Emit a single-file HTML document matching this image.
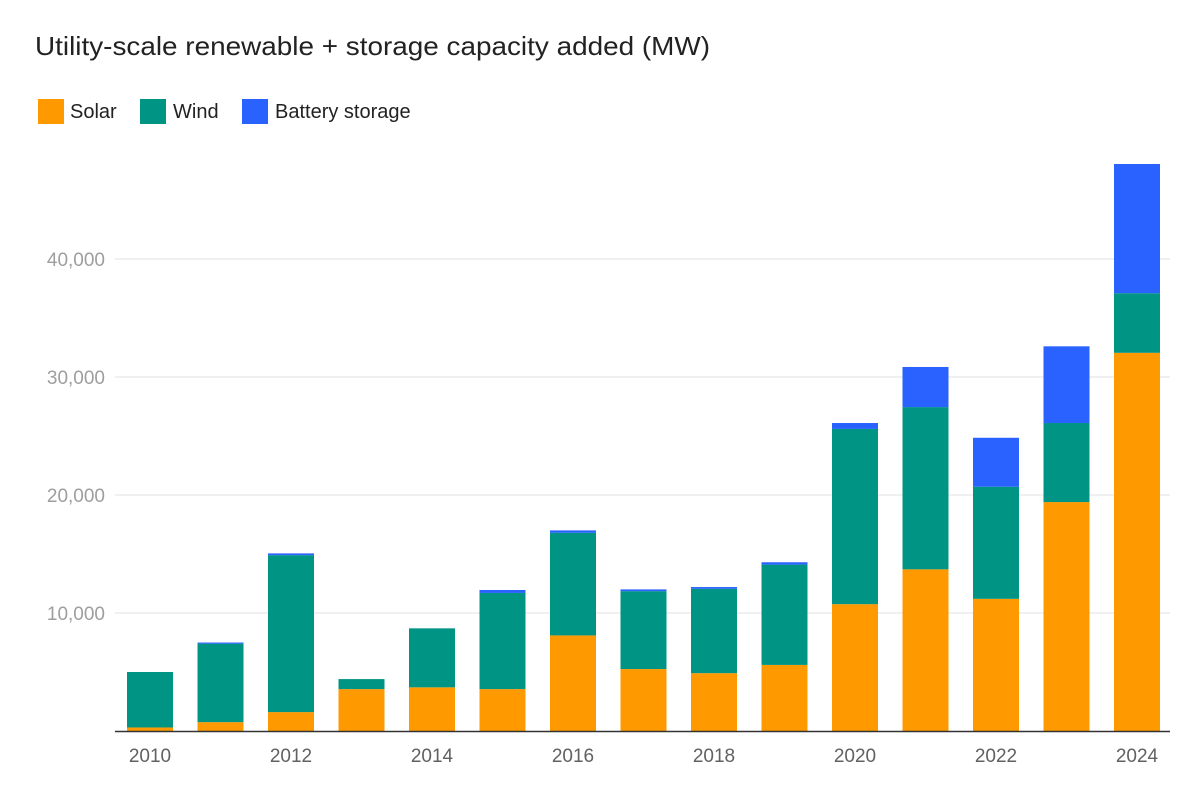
<!DOCTYPE html>
<html><head><meta charset="utf-8"><style>
body{margin:0;background:#fff;width:1200px;height:797px;overflow:hidden;font-family:"Liberation Sans",sans-serif}
</style></head><body>
<svg id="chart" width="1200" height="797">
<text x="35" y="55" font-size="26" fill="#222" textLength="675" lengthAdjust="spacingAndGlyphs">Utility-scale renewable + storage capacity added (MW)</text>
<g>
<rect x="38" y="99" width="26" height="25" fill="#ff9900"/>
<text x="70" y="118" font-size="20" fill="#222">Solar</text>
<rect x="140" y="99" width="26" height="25" fill="#009485"/>
<text x="173" y="118" font-size="20" fill="#222">Wind</text>
<rect x="242" y="99" width="26" height="25" fill="#2962ff"/>
<text x="275" y="118" font-size="20" fill="#222">Battery storage</text>
</g>
<g id="grid"></g><g id="bars"></g><g id="xaxis"></g>
</svg>
<script>
const years=[2010,2011,2012,2013,2014,2015,2016,2017,2018,2019,2020,2021,2022,2023,2024];
const solar=[300,750,1600,3550,3700,3550,8100,5250,4900,5600,10750,13700,11200,19400,32050];
const wind=[4700,6650,13300,850,5000,8150,8700,6600,7150,8500,14850,13750,9500,6700,5050];
const battery=[0,100,150,0,0,250,200,150,150,200,500,3400,4150,6500,10950];
const yTicks=[10000,20000,30000,40000];
const yTickLabels=["10,000","20,000","30,000","40,000"];
const xLabelYears=[2010,2012,2014,2016,2018,2020,2022,2024];
const svg=document.getElementById('chart');
const NS='http://www.w3.org/2000/svg';
const y0=731,pxPer=118/10000,x0=150,step=70.5,bw=46;
const yS=v=>y0-v*pxPer;
const xS=i=>x0+i*step;
function mk(tag,attrs,parent){const e=document.createElementNS(NS,tag);for(const k in attrs)e.setAttribute(k,attrs[k]);parent.appendChild(e);return e;}
const grid=document.getElementById('grid');
yTicks.forEach((t,i)=>{
 const l=mk('line',{x1:115,x2:1170,y1:yS(t),y2:yS(t),stroke:'#e0e0e0','stroke-width':1},grid);
 
 
 const tx=mk('text',{x:105,y:yS(t)+7,'font-size':19,fill:'#9e9e9e','text-anchor':'end'},grid);
 tx.textContent=yTickLabels[i];
 
 
});
const bars=document.getElementById('bars');
const series=[[solar,'#ff9900','solar'],[wind,'#009485','wind'],[battery,'#2962ff','battery']];
years.forEach((yr,i)=>{
 let base=0;
 series.forEach(([arr,c,n])=>{
  const v=arr[i];if(v<=0)return;
  const r=mk('rect',{x:xS(i)-bw/2,y:yS(base+v),width:bw,height:v*pxPer,fill:c},bars);
  
  
  base+=v;
 });
});
const xa=document.getElementById('xaxis');
const ax=mk('line',{x1:115,x2:1170,y1:y0+0.5,y2:y0+0.5,stroke:'#333','stroke-width':1.5},xa);


xLabelYears.forEach(yr=>{
 const i=years.indexOf(yr);
 const t=mk('text',{x:xS(i),y:762,'font-size':19,fill:'#616161','text-anchor':'middle'},xa);
 t.textContent=yr;
 
 
});
</script>
</body></html>
